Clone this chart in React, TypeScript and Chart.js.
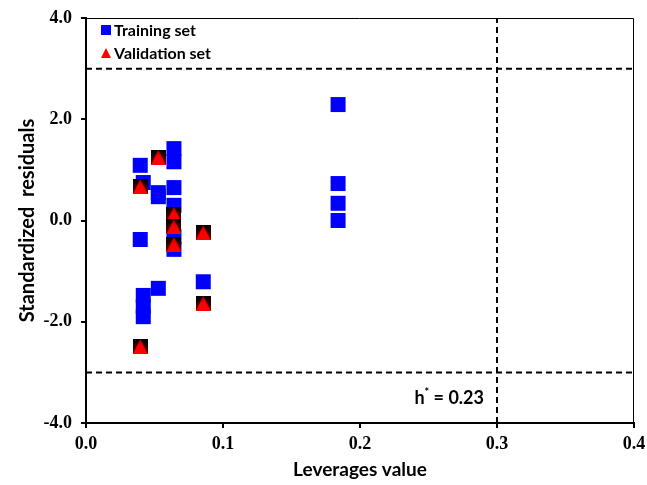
import React, { useEffect, useRef } from "react";
import { Chart, registerables } from "chart.js";

Chart.register(...registerables);

// ---- data ----
const trainX = [0.0396, 0.0396, 0.0418, 0.0418, 0.0418, 0.0418, 0.0528, 0.0528, 0.0528, 0.0642, 0.0642, 0.0642, 0.0642, 0.0642, 0.0642, 0.0856, 0.184, 0.184, 0.184, 0.184];
const trainY = [1.09, -0.375, 0.75, -1.48, -1.7, -1.9, 0.55, 0.47, -1.34, 1.42, 1.16, 0.65, 0.3, -0.32, -0.57, -1.21, 2.29, 0.73, 0.34, 0.0];
const validX = [0.0396, 0.0396, 0.0528, 0.0642, 0.0642, 0.0642, 0.0856, 0.0856];
const validY = [0.67, -2.49, 1.245, 0.125, -0.12, -0.47, -0.24, -1.64];
const warnY = [3, -3];
const hStar = 0.3;
const xRange = [0, 0.4];
const yRange = [-4, 4];
const seriesNames = ["Training set", "Validation set"];
const xTitle = "Leverages value";
const yTitle = "Standardized  residuals";

function makeValidMarker(size: number): HTMLCanvasElement {
  const c = document.createElement("canvas");
  c.width = size;
  c.height = size;
  const g = c.getContext("2d")!;
  const bg = g.createLinearGradient(0, 0, 0, size);
  bg.addColorStop(0, "#000000");
  bg.addColorStop(1, "#6a0000");
  g.fillStyle = bg;
  g.fillRect(0, 0, size, size);
  const tg = g.createLinearGradient(0, 0, 0, size);
  tg.addColorStop(0, "#b00000");
  tg.addColorStop(0.45, "#ff0000");
  tg.addColorStop(1, "#ff0000");
  g.fillStyle = tg;
  g.beginPath();
  g.moveTo(size / 2, 0);
  g.lineTo(size, size);
  g.lineTo(0, size);
  g.closePath();
  g.fill();
  return c;
}

const framePlugin = {
  id: "frame",
  afterDatasetsDraw(chart: any) {
    const { ctx, chartArea } = chart;
    ctx.save();
    ctx.strokeStyle = "#000";
    ctx.lineWidth = 1;
    ctx.beginPath();
    ctx.moveTo(chartArea.left, chartArea.top + 0.5);
    ctx.lineTo(chartArea.right - 0.5, chartArea.top + 0.5);
    ctx.lineTo(chartArea.right - 0.5, chartArea.bottom);
    ctx.stroke();
    ctx.restore();
  },
  afterDraw(chart: any) {
    const { ctx, chartArea, scales } = chart;
    ctx.save();
    // legend
    const lx = chartArea.left + 15;
    const ly = chartArea.top + 7;
    ctx.fillStyle = "#0000ff";
    ctx.fillRect(lx, ly, 10, 10);
    ctx.fillStyle = "#ff0000";
    ctx.beginPath();
    ctx.moveTo(lx + 5, ly + 23);
    ctx.lineTo(lx + 10, ly + 33);
    ctx.lineTo(lx, ly + 33);
    ctx.closePath();
    ctx.fill();
    ctx.fillStyle = "#000";
    ctx.font = "bold 16px Lato";
    ctx.textBaseline = "alphabetic";
    ctx.textAlign = "left";
    ctx.fillText(seriesNames[0], lx + 13, ly + 11);
    ctx.fillText(seriesNames[1], lx + 13, ly + 34);
    // h* label
    const xr = scales.x.getPixelForValue(hStar) - 13;
    const yb = scales.y.getPixelForValue(warnY[1]) + 32;
    ctx.font = "bold 18px Lato";
    const rest = " = 0.23";
    const wRest = ctx.measureText(rest).width;
    ctx.font = "bold 11px Lato";
    const wStar = ctx.measureText("*").width;
    ctx.font = "bold 18px Lato";
    const wH = ctx.measureText("h").width;
    let x0 = xr - wRest - wStar - wH;
    ctx.fillText("h", x0, yb);
    ctx.font = "bold 11px Lato";
    ctx.fillText("*", x0 + wH, yb - 8);
    ctx.font = "bold 18px Lato";
    ctx.fillText(rest, x0 + wH + wStar, yb);
    ctx.restore();
  },
};

export default function App() {
  const ref = useRef<HTMLCanvasElement | null>(null);
  useEffect(() => {
    const canvas = ref.current!;
    const marker = makeValidMarker(15);
    const dashStyle = {
      showLine: true,
      borderColor: "#000",
      borderWidth: 2,
      borderDash: [6, 4],
      pointRadius: 0,
      fill: false,
      order: 3,
    };
    const chart = new Chart(canvas, {
      type: "scatter",
      data: {
        datasets: [
          {
            label: seriesNames[1],
            data: validX.map((x, i) => ({ x, y: validY[i] })),
            pointStyle: marker as any,
            pointRadius: 8,
            order: 0,
          },
          {
            label: seriesNames[0],
            data: trainX.map((x, i) => ({ x, y: trainY[i] })),
            pointStyle: "rect",
            pointRadius: 10.6,
            borderWidth: 0,
            backgroundColor: "#0000ff",
            borderColor: "#0000ff",
            order: 1,
          },
          { ...dashStyle, label: "upper", data: xRange.map((x) => ({ x, y: warnY[0] })) } as any,
          { ...dashStyle, label: "lower", data: xRange.map((x) => ({ x, y: warnY[1] })) } as any,
          { ...dashStyle, label: "hstar", data: yRange.map((y) => ({ x: hStar, y })) } as any,
        ],
      },
      options: {
        responsive: false,
        animation: false,
        events: [],
        devicePixelRatio: 1,
        layout: { padding: { left: 0, right: 13, top: 18, bottom: 0 } },
        plugins: { legend: { display: false }, tooltip: { enabled: false } },
        scales: {
          x: {
            type: "linear",
            min: xRange[0],
            max: xRange[1],
            afterFit: (s: any) => {
              s.height = 62;
              s.paddingRight = 0;
              s.paddingLeft = 0;
            },
            ticks: {
              stepSize: 0.1,
              color: "#000",
              padding: 6,
              font: { family: "Liberation Serif", weight: "bold", size: 18 },
              callback: (v: any) => Number(v).toFixed(1),
            },
            grid: { display: true, drawOnChartArea: false, drawTicks: true, tickLength: 5, color: "#000", lineWidth: 2 },
            border: { display: true, color: "#000", width: 2 },
            title: {
              display: true,
              text: xTitle,
              color: "#000",
              font: { family: "Lato", weight: "bold", size: 19 },
              padding: { top: 4, bottom: 4 },
            },
          },
          y: {
            type: "linear",
            min: yRange[0],
            max: yRange[1],
            afterFit: (s: any) => {
              s.width = 86;
              s.paddingTop = 0;
              s.paddingBottom = 0;
            },
            ticks: {
              stepSize: 2,
              color: "#000",
              padding: 9,
              font: { family: "Liberation Serif", weight: "bold", size: 18 },
              callback: (v: any) => Number(v).toFixed(1),
            },
            grid: { display: true, drawOnChartArea: false, drawTicks: true, tickLength: 5, color: "#000", lineWidth: 2 },
            border: { display: true, color: "#000", width: 2 },
            title: {
              display: true,
              text: yTitle,
              color: "#000",
              font: { family: "Lato", weight: "bold", size: 20 },
              padding: { top: 16, bottom: 4 },
            },
          },
        },
      },
      plugins: [framePlugin],
    } as any);
    return () => chart.destroy();
  }, []);
  return (
    <canvas
      ref={ref}
      width={647}
      height={485}
      style={{ position: "absolute", left: 0, top: 0, width: 647, height: 485, background: "#fff" }}
    />
  );
}
